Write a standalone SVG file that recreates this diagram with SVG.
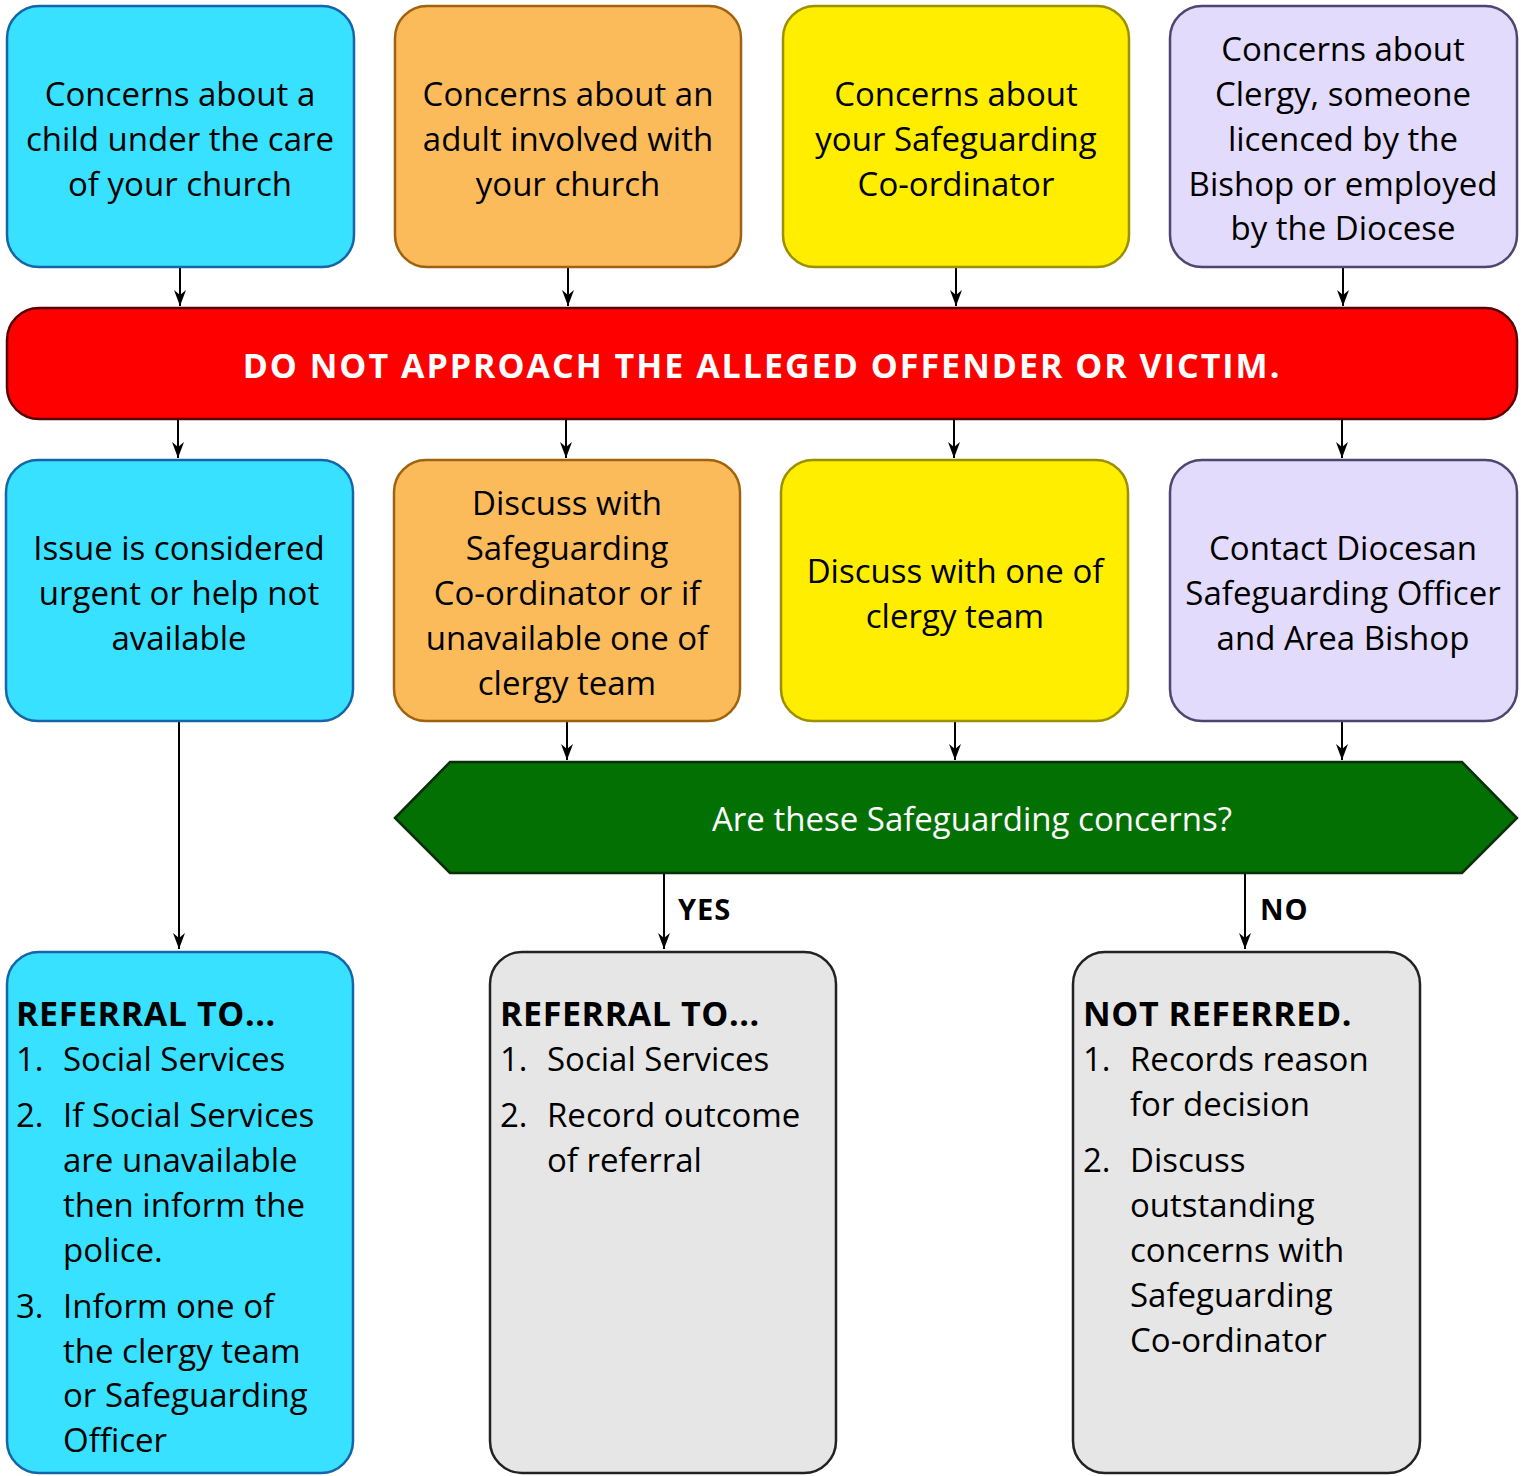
<svg xmlns="http://www.w3.org/2000/svg" width="1521" height="1476" viewBox="0 0 1521 1476">
<defs>
<marker id="ah" markerUnits="userSpaceOnUse" markerWidth="16" markerHeight="12" refX="16" refY="6" orient="auto" viewBox="0 0 16 12">
<path d="M0,0 L16,6 L0,12 L5,6 Z" fill="#000"/>
</marker>
<style>
text{font-family:"Open Sans","Noto Sans",sans-serif;font-size:33px;fill:#000}
.c{text-anchor:middle}
.b{font-weight:bold;font-size:34px;letter-spacing:0.6px}
.w{fill:#fff}
.box{stroke-width:2.5}
.cy{fill:#38E1FF;stroke:#1565A8}
.or{fill:#FBBB5B;stroke:#A0620F}
.ye{fill:#FFEE00;stroke:#9C8F00}
.la{fill:#E3DBFB;stroke:#4E4670}
.gr{fill:#E6E6E6;stroke:#222}
.con line{stroke:#000;stroke-width:2}
.lbl{font-weight:bold;font-size:29px;letter-spacing:1px}
</style>
</defs>
<rect width="1521" height="1476" fill="#fff"/>

<g id="connectors" class="con">
<line x1="180" y1="268" x2="180" y2="306" marker-end="url(#ah)"/>
<line x1="568" y1="268" x2="568" y2="306" marker-end="url(#ah)"/>
<line x1="956" y1="268" x2="956" y2="306" marker-end="url(#ah)"/>
<line x1="1343" y1="268" x2="1343" y2="306" marker-end="url(#ah)"/>
<line x1="178" y1="420" x2="178" y2="458" marker-end="url(#ah)"/>
<line x1="566" y1="420" x2="566" y2="458" marker-end="url(#ah)"/>
<line x1="954" y1="420" x2="954" y2="458" marker-end="url(#ah)"/>
<line x1="1342" y1="420" x2="1342" y2="458" marker-end="url(#ah)"/>
<line x1="567" y1="722" x2="567" y2="760" marker-end="url(#ah)"/>
<line x1="955" y1="722" x2="955" y2="760" marker-end="url(#ah)"/>
<line x1="1342" y1="722" x2="1342" y2="760" marker-end="url(#ah)"/>
<line x1="179" y1="722" x2="179" y2="949" marker-end="url(#ah)"/>
<line x1="664" y1="874" x2="664" y2="949" marker-end="url(#ah)"/>
<line x1="1245" y1="874" x2="1245" y2="949" marker-end="url(#ah)"/>
<text x="678" y="920" class="lbl">YES</text>
<text x="1260" y="920" class="lbl">NO</text>
</g>

<g id="n1">
<rect class="box cy" x="7" y="6" width="347" height="261" rx="32"/>
<text class="c" x="180" y="106">Concerns about a</text>
<text class="c" x="180" y="151">child under the care</text>
<text class="c" x="180" y="196">of your church</text>
</g>
<g id="n2">
<rect class="box or" x="395" y="6" width="346" height="261" rx="32"/>
<text class="c" x="568" y="106">Concerns about an</text>
<text class="c" x="568" y="151">adult involved with</text>
<text class="c" x="568" y="196">your church</text>
</g>
<g id="n3">
<rect class="box ye" x="783" y="6" width="346" height="261" rx="32"/>
<text class="c" x="956" y="106">Concerns about</text>
<text class="c" x="956" y="151">your Safeguarding</text>
<text class="c" x="956" y="196">Co-ordinator</text>
</g>
<g id="n4">
<rect class="box la" x="1170" y="6" width="347" height="261" rx="32"/>
<text class="c" x="1343" y="61">Concerns about</text>
<text class="c" x="1343" y="106">Clergy, someone</text>
<text class="c" x="1343" y="151">licenced by the</text>
<text class="c" x="1343" y="196">Bishop or employed</text>
<text class="c" x="1343" y="240">by the Diocese</text>
</g>

<g id="warning">
<rect x="7" y="308" width="1510" height="111" rx="32" fill="#FF0000" stroke="#5A0000" stroke-width="2.5"/>
<text class="c w" x="762" y="378" style="font-size:34px;font-weight:bold;letter-spacing:2px">DO NOT APPROACH THE ALLEGED OFFENDER OR VICTIM.</text>
</g>

<g id="n5">
<rect class="box cy" x="6" y="460" width="347" height="261" rx="32"/>
<text class="c" x="179" y="560">Issue is considered</text>
<text class="c" x="179" y="605">urgent or help not</text>
<text class="c" x="179" y="650">available</text>
</g>
<g id="n6">
<rect class="box or" x="394" y="460" width="346" height="261" rx="32"/>
<text class="c" x="567" y="515">Discuss with</text>
<text class="c" x="567" y="560">Safeguarding</text>
<text class="c" x="567" y="605">Co-ordinator or if</text>
<text class="c" x="567" y="650">unavailable one of</text>
<text class="c" x="567" y="695">clergy team</text>
</g>
<g id="n7">
<rect class="box ye" x="781" y="460" width="347" height="261" rx="32"/>
<text class="c" x="955" y="583">Discuss with one of</text>
<text class="c" x="955" y="628">clergy team</text>
</g>
<g id="n8">
<rect class="box la" x="1170" y="460" width="347" height="261" rx="32"/>
<text class="c" x="1343" y="560">Contact Diocesan</text>
<text class="c" x="1343" y="605">Safeguarding Officer</text>
<text class="c" x="1343" y="650">and Area Bishop</text>
</g>

<g id="decision">
<polygon points="395,818 450,762 1462,762 1517,818 1462,873 450,873" fill="#037003" stroke="#0B2E0B" stroke-width="2.5"/>
<text class="c w" x="972" y="831">Are these Safeguarding concerns?</text>
</g>

<g id="n9">
<rect class="box cy" x="7" y="952" width="346" height="521" rx="32"/>
<text class="b" x="16" y="1026">REFERRAL TO...</text>
<text x="16" y="1071">1.</text><text x="63" y="1071">Social Services</text>
<text x="16" y="1127">2.</text><text x="63" y="1127">If Social Services</text>
<text x="63" y="1172">are unavailable</text>
<text x="63" y="1217">then inform the</text>
<text x="63" y="1262">police.</text>
<text x="16" y="1318">3.</text><text x="63" y="1318">Inform one of</text>
<text x="63" y="1363">the clergy team</text>
<text x="63" y="1407">or Safeguarding</text>
<text x="63" y="1452">Officer</text>
</g>
<g id="n10">
<rect class="box gr" x="490" y="952" width="346" height="521" rx="32"/>
<text class="b" x="500" y="1026">REFERRAL TO...</text>
<text x="500" y="1071">1.</text><text x="547" y="1071">Social Services</text>
<text x="500" y="1127">2.</text><text x="547" y="1127">Record outcome</text>
<text x="547" y="1172">of referral</text>
</g>
<g id="n11">
<rect class="box gr" x="1073" y="952" width="347" height="521" rx="32"/>
<text class="b" x="1083" y="1026">NOT REFERRED.</text>
<text x="1083" y="1071">1.</text><text x="1130" y="1071">Records reason</text>
<text x="1130" y="1116">for decision</text>
<text x="1083" y="1172">2.</text><text x="1130" y="1172">Discuss</text>
<text x="1130" y="1217">outstanding</text>
<text x="1130" y="1262">concerns with</text>
<text x="1130" y="1307">Safeguarding</text>
<text x="1130" y="1352">Co-ordinator</text>
</g>
</svg>
